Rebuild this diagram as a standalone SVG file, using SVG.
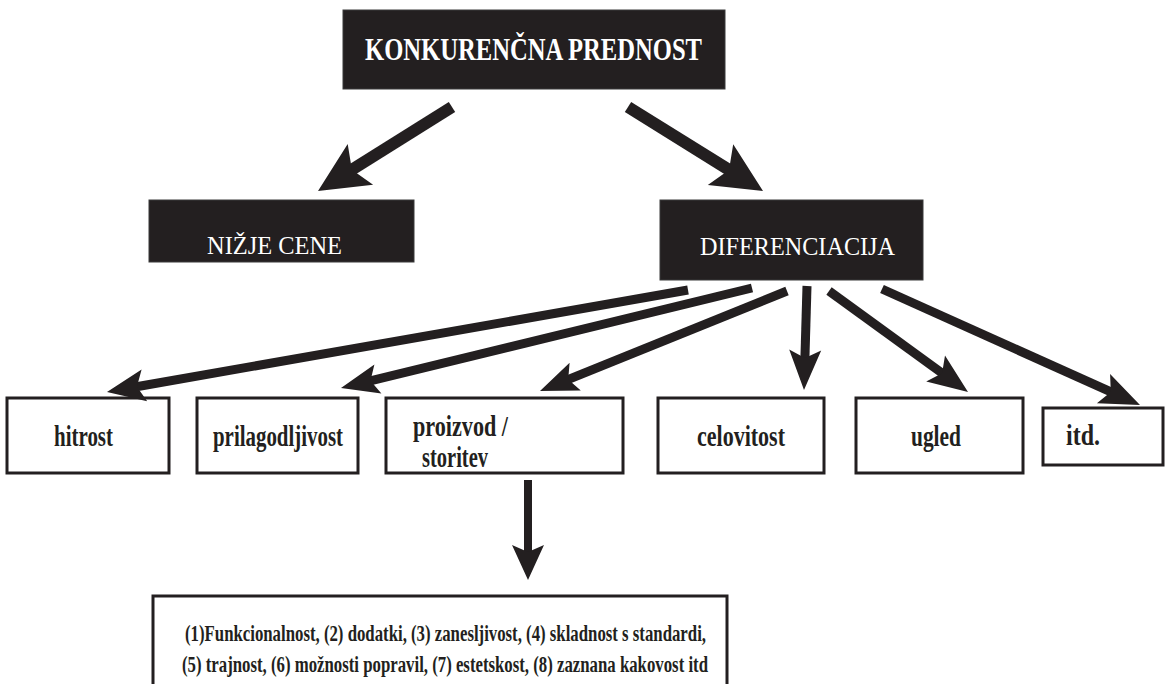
<svg xmlns="http://www.w3.org/2000/svg" width="1169" height="684" viewBox="0 0 1169 684">
<style>
.dark{fill:#231f20;stroke:#3a3a3a;stroke-width:1}
.box{fill:#fff;stroke:#231f20;stroke-width:3}
.wt{fill:#fff;font-family:'Liberation Serif','DejaVu Serif',serif}
.bt{fill:#231f20;font-family:'Liberation Serif','DejaVu Serif',serif;font-weight:bold;font-size:30px}
.lt{fill:#231f20;font-family:'Liberation Serif','DejaVu Serif',serif;font-weight:bold;font-size:24px}
.shaft{stroke:#231f20;fill:none;stroke-linecap:butt}
.head{fill:#231f20}
</style>
<rect width="1169" height="684" fill="#fff"/>
<g id="konkurencna">
<rect class="dark" x="343" y="10" width="382" height="79"/>
<text class="wt" x="533.5" y="60" font-size="31" font-weight="bold" text-anchor="middle" textLength="337" lengthAdjust="spacingAndGlyphs">KONKURENČNA PREDNOST</text>
</g>
<g id="nizje-cene">
<rect class="dark" x="149" y="200" width="265" height="62"/>
<text class="wt" x="274.5" y="254" font-size="26" text-anchor="middle" textLength="135" lengthAdjust="spacingAndGlyphs">NIŽJE CENE</text>
</g>
<g id="diferenciacija">
<rect class="dark" x="660" y="200" width="263" height="80"/>
<text class="wt" x="797.5" y="255" font-size="26" text-anchor="middle" textLength="195" lengthAdjust="spacingAndGlyphs">DIFERENCIACIJA</text>
</g>
<g id="hitrost">
<rect class="box" x="7" y="398" width="162" height="75"/>
<text class="bt" x="83.5" y="446" text-anchor="middle" textLength="59" lengthAdjust="spacingAndGlyphs">hitrost</text>
</g>
<g id="prilagodljivost">
<rect class="box" x="197" y="398" width="161" height="75"/>
<text class="bt" x="278" y="446" text-anchor="middle" textLength="130" lengthAdjust="spacingAndGlyphs">prilagodljivost</text>
</g>
<g id="proizvod">
<rect class="box" x="386" y="398" width="237" height="75"/>
<text class="bt" x="413" y="436" textLength="95" lengthAdjust="spacingAndGlyphs">proizvod /</text>
<text class="bt" x="422" y="467" textLength="66" lengthAdjust="spacingAndGlyphs">storitev</text>
</g>
<g id="celovitost">
<rect class="box" x="658" y="398" width="166" height="75"/>
<text class="bt" x="741" y="446" text-anchor="middle" textLength="88" lengthAdjust="spacingAndGlyphs">celovitost</text>
</g>
<g id="ugled">
<rect class="box" x="856" y="398" width="167" height="75"/>
<text class="bt" x="936" y="446" text-anchor="middle" textLength="50" lengthAdjust="spacingAndGlyphs">ugled</text>
</g>
<g id="itd">
<rect class="box" x="1043" y="408" width="120" height="57"/>
<text class="bt" x="1083" y="445" text-anchor="middle" textLength="34" lengthAdjust="spacingAndGlyphs">itd.</text>
</g>
<g id="lastnosti">
<rect class="box" x="153" y="596" width="574" height="100"/>
<text class="lt" x="185" y="641" textLength="521" lengthAdjust="spacingAndGlyphs">(1)Funkcionalnost, (2) dodatki, (3) zanesljivost, (4) skladnost s standardi,</text>
<text class="lt" x="182" y="672" textLength="526" lengthAdjust="spacingAndGlyphs">(5) trajnost, (6) možnosti popravil, (7) estetskost, (8) zaznana kakovost itd</text>
</g>
<g id="connectors">
<line class="shaft" stroke-width="12" x1="452" y1="107" x2="343.4" y2="175"/>
<polygon class="head" points="318,191 373.1,184.7 351.9,169.7 347.7,144.1"/>
<line class="shaft" stroke-width="12" x1="628" y1="107" x2="737.5" y2="175.2"/>
<polygon class="head" points="763,191 733.2,144.2 729,169.9 707.8,185"/>
<line class="shaft" stroke-width="9" x1="688" y1="290" x2="129.4" y2="388"/>
<polygon class="head" points="107,392 147.2,401.2 136.9,386.7 141.6,369.6"/>
<line class="shaft" stroke-width="9" x1="752" y1="288" x2="363.1" y2="382.6"/>
<polygon class="head" points="341,388 381.4,393.6 370.5,380.8 374.4,364.4"/>
<line class="shaft" stroke-width="9" x1="787" y1="291" x2="561.1" y2="382.4"/>
<polygon class="head" points="540,391 580.8,390.6 568.2,379.6 569.6,362.8"/>
<line class="shaft" stroke-width="9" x1="807" y1="286" x2="804.7" y2="366"/>
<polygon class="head" points="804,390 821.2,350.5 805,358 789.2,349.5"/>
<line class="shaft" stroke-width="9" x1="829" y1="291" x2="948.6" y2="377.9"/>
<polygon class="head" points="968,392 945,355.6 942.1,373.2 926.2,381.4"/>
<line class="shaft" stroke-width="9" x1="882" y1="289" x2="1118.1" y2="395.2"/>
<polygon class="head" points="1140,405 1110.1,374 1110.8,391.9 1096.9,403.2"/>
<line class="shaft" stroke-width="8" x1="528" y1="480" x2="528" y2="559"/>
<polygon class="head" points="528,580 544,545 528,552 512,545"/>
</g>
</svg>
